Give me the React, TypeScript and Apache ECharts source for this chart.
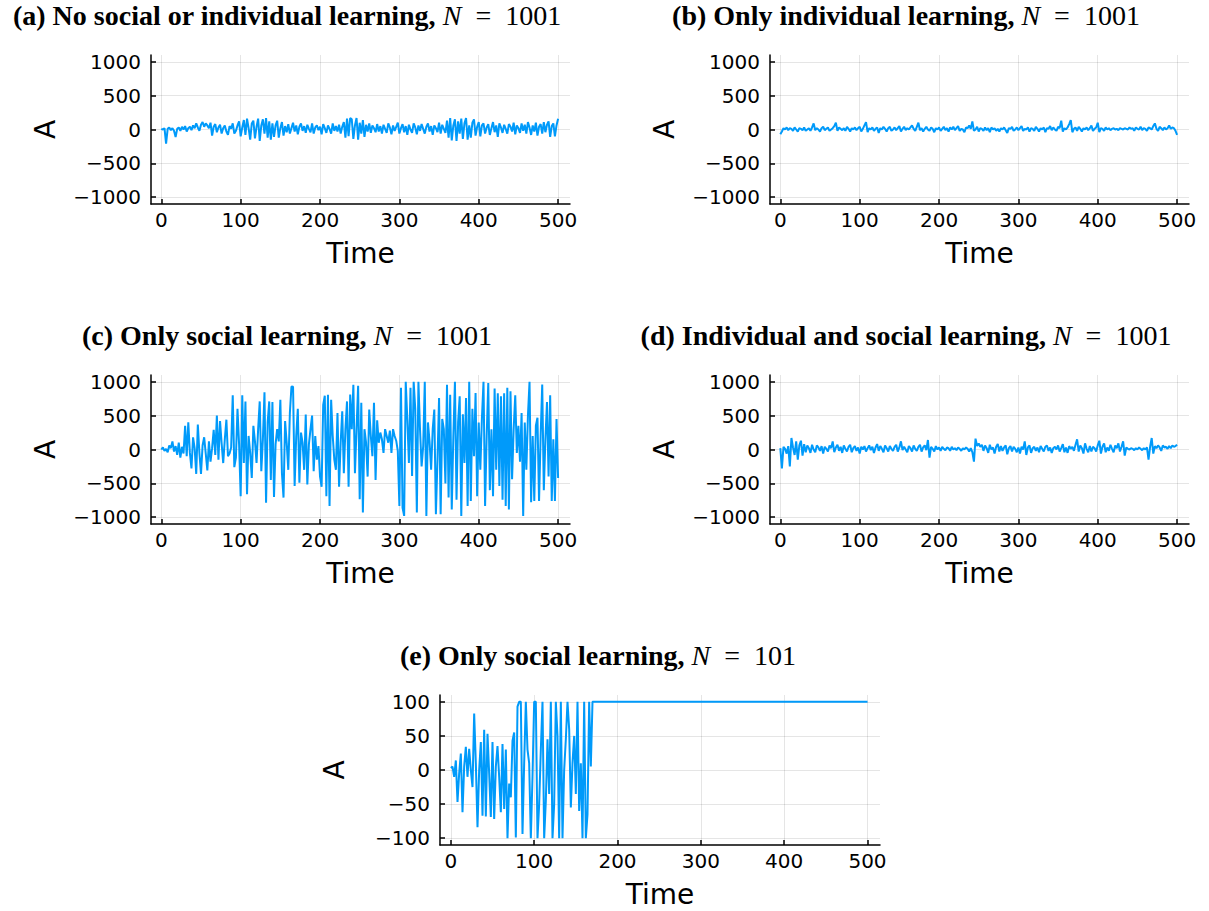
import React, { useEffect, useRef } from "react";
import * as echarts from "echarts";

// ---------- data ----------
const TIME_TICKS = [0, 100, 200, 300, 400, 500];
const A_TICKS_BIG = [-1000, -500, 0, 500, 1000];
const A_TICKS_SMALL = [-100, -50, 0, 50, 100];

const TITLES_BOLD = [
  "(a) No social or individual learning, ",
  "(b) Only individual learning, ",
  "(c) Only social learning, ",
  "(d) Individual and social learning, ",
  "(e) Only social learning, ",
];
const TITLES_N = ["1001", "1001", "1001", "1001", "101"];

// (a) sampled every 2 time steps, t = 0..500
const STEP_A = 2;
const SERIES_A = [
  10, 0, 20, -210, 10, 30, -10, 20, -20, -110,
  10, 30, -20, 40, 0, 50, -30, 20, 40, -10,
  60, 20, 90, 30, -20, 70, 110, 40, 90, 60,
  20, 100, -90, 40, 80, -40, 30, 70, -60, 20,
  60, -30, -80, 50, 10, 90, -60, -20, 60, 120,
  -100, 30, 140, -80, 160, 20, -150, 90, 130, -130,
  40, 160, -170, 60, 150, -60, 170, -120, 120, -150,
  90, -110, 60, 130, -120, 20, 110, -90, 50, -40,
  80, -60, 20, 100, -30, 60, -70, 40, 90, -20,
  50, -50, 70, 10, -40, 90, -60, 30, 60, -10,
  40, -70, 80, 20, -50, 60, 10, -60, 90, -20,
  50, -30, 70, -60, 40, 110, -120, 160, -100, 170,
  150, -140, 60, 170, -150, 100, -60, 140, -110, 70,
  -30, 90, -50, 60, 20, -40, 80, -30, 50, -60,
  70, 10, -50, 90, 30, -70, 60, -20, 40, 100,
  -60, 20, 80, -40, 50, -80, 70, 0, -50, 90,
  30, -70, 60, -20, 80, 10, -60, 40, 90, -30,
  50, -80, 60, 20, -40, 100, -60, 70, 10, -50,
  130, -120, 170, -160, 60, 150, -170, 120, -60, 160,
  -140, 90, 170, -150, 60, -120, 100, 150, -90, 40,
  110, -100, 60, 90, -60, 30, 80, -80, 20, 110,
  -40, 60, -110, 90, 30, -50, 70, 10, -60, 80,
  40, -30, 100, -70, 60, 20, -50, 90, -20, 70,
  -60, 110, 30, -80, 60, -30, 100, -90, 40, 80,
  -60, 110, -40, 70, 120, -110, 50, 90, -100, 60,
  160,
];

// (b) sampled every 2 time steps
const STEP_B = 2;
const SERIES_B = [
  -70, -30, 20, 0, 30, -10, 20, 10, -20, 30,
  0, -30, 20, 10, -10, 30, -20, 0, 20, -20,
  30, 90, -10, 20, 0, -30, 20, 40, -10, 10,
  30, -20, 0, 20, 50, 100, -20, 30, 10, -10,
  20, -20, 40, 10, -30, 20, 0, 30, -10, 20,
  40, -30, 10, 60, 110, -40, 20, 0, 30, -20,
  10, 30, -50, 20, 0, 40, 10, -30, 20, 40,
  -20, 0, 30, -10, 20, 50, -30, 10, 40, -10,
  20, 0, 30, 60, 10, -20, 40, 100, -10, 20,
  -30, 10, 40, 0, -20, 30, 10, -40, 20, 0,
  30, -20, 10, 40, -10, 20, -30, 30, 0, 40,
  -10, 20, 50, -20, 10, 0, -40, 30, 20, 60,
  10, 120, -20, 0, 40, -30, 20, 10, -20, 30,
  -10, 20, -40, 30, 0, 20, -20, 10, -30, 20,
  0, 30, -10, -50, 20, 10, 40, -20, 0, 30,
  -10, 20, 50, -20, 10, 0, 30, -30, 20, 10,
  -20, 40, 10, -30, 20, 0, 30, -40, 20, 10,
  50, -10, 30, 0, -20, 40, 20, 130, -30, 20,
  0, 30, 80, 140, -40, 10, 30, -20, 40, 10,
  -30, 20, 0, 30, -10, 20, 60, -20, 10, 30,
  100, -40, 20, 10, -20, 30, 0, 20, -10, 10,
  20, 0, 10, -10, 20, 10, 0, 20, 10, 0,
  30, 10, 20, -20, 30, 10, 0, 40, -10, 20,
  10, -20, 30, 20, 0, 50, 90, 10, -20, 40,
  20, -10, 30, 0, 20, 60, 10, 30, 20, -20,
  -80,
];

// (c) sampled every 2 time steps
const STEP_C = 2;
const SERIES_C = [
  0, 30, -20, 10, -40, 60, 20, 120, -30, 50,
  -80, 100, -120, 40, -60, 350, -100, 400, -50, -280,
  180, 20, -360, 370, -50, -360, 60, 180, -60, -310,
  120, -180, 20, 290, -80, 500, -150, 420, 90, -200,
  150, 440, -100, -60, 30, 800, -260, -120, 600, 80,
  -690, 800, -200, 710, -660, 200, -50, -420, 350, 120,
  -200, 300, 710, -320, 150, 845, -785, 400, 710, -450,
  700, -700, 80, 300, 120, 735, -350, -710, 420, 100,
  -300, 540, 930, 925, -540, 200, 600, -490, 250, 100,
  -300, 515, -515, 80, 300, 500, -320, 200, -150, 50,
  -400, -550, 660, 795, -690, 810, -835, 735, 200, -150,
  -300, 540, -550, 100, 565, -350, 300, 710, -550, 810,
  300, 955, -350, 300, 940, -735, 690, -930, 300, 100,
  -400, 590, 200, -100, 690, -450, 430, 100, 250, 150,
  -50, 300, 200, 100, 280, -50, 300, 200, 130, -20,
  -835, 910, -860, -980, 1000, 450, -200, 910, -390, 1000,
  600, -930, 1000, 300, -250, 50, 1000, -980, 400, 120,
  -300, 300, 590, -955, -150, 760, -955, 450, 300, -500,
  955, -710, 810, -885, 200, 1000, -740, 400, 785, -980,
  520, -200, 760, -835, 1000, -760, 600, -100, 835, -690,
  400, -300, 460, 1000, -835, 200, 980, -600, 300, -690,
  900, -300, 830, -540, 785, -740, 830, -835, 910, -885,
  860, -440, 300, 800, -50, 350, -180, 540, -980, 400,
  -300, 500, 1000, -780, 200, -760, 350, 470, -760, 200,
  960, -600, 150, 700, -400, 800, -760, 150, -760, 450,
  -420,
];

// (d) sampled every 2 time steps
const STEP_D = 2;
const SERIES_D = [
  20, -280, 40, 10, -60, 50, -250, 170, 30, -80,
  120, -150, 60, 130, -90, 80, -40, 60, 20, -50,
  70, 0, -40, 60, 30, -20, 50, -60, 40, 10,
  -30, 60, 20, 120, -40, 30, 70, -20, 40, -50,
  60, 10, -30, 40, 70, -40, 20, 50, -20, 30,
  -60, 40, 0, 50, -30, 20, 60, -10, 40, -50,
  30, 80, -20, 50, 10, -40, 60, 20, -30, 50,
  10, -20, 40, 70, -30, 30, 120, -10, 40, 0,
  -40, 50, 20, -30, 60, 10, -20, 40, 70, -30,
  30, 60, -10, 140, -120, 40, 10, -30, 50, 0,
  30, -20, 40, 10, -10, 30, 20, -20, 40, 0,
  20, -10, 30, 10, -20, 20, 0, 30, 10, -30,
  20, -40, -180, 160, 50, 90, 40, 70, -20, 60,
  20, -50, 70, 0, 30, -60, 40, 80, -30, 50,
  -20, 30, 60, -70, 20, 50, -30, 40, 10, -40,
  30, -60, 40, 0, 120, -80, 30, 60, -50, 20,
  40, -20, 30, -40, 50, 10, -30, 40, 60, -20,
  30, -50, 20, 40, 0, 60, -30, 20, 80, -40,
  30, -50, 50, 10, 40, -20, 70, 150, -30, 60,
  20, -60, 90, 10, -40, 50, -30, 40, 20, -30,
  60, 130, -60, 40, 90, -40, 30, -20, 70, 10,
  -40, 60, 20, 90, -30, 40, 120, -90, 30, 10,
  0, 20, 10, -10, 20, 0, 30, 10, -10, 20,
  0, 30, -150, 40, 170, -60, 50, 20, 60, 30,
  -20, 60, 30, 40, 10, 50, 20, 60, 40, 50,
  70,
];

// (e) sampled every 2 time steps for t = 0..170, then constant
const STEP_E = 2;
const SERIES_E = [
  3, 5, -10, 14, -47, -5, 24, -62, 5, 34,
  -10, 31, 0, -25, 83, 10, -84, 0, 41, -67,
  59, -68, 53, -5, -69, 41, -72, 5, 35, -10,
  -62, 38, -57, 30, -100, -20, -40, 43, 55, -99,
  93, 100, 100, -94, 10, 100, 30, 10, -100, -10,
  100, 100, -100, -50, 30, 100, -100, -45, 45, -35,
  100, -100, -50, 100, 50, -100, 100, -100, 0, 45,
  100, 60, -55, 10, 50, -35, 100, -60, 10, -100,
  100, -100, -65, 100, 5, 100,
];
const SERIES_E_END_TIME = 500;
const SERIES_E_END_VALUE = 100;

// ---------- layout ----------
const LAYOUT = [
  { left: 151, top: 55, width: 419, height: 149, ymax: 1100, ticks: A_TICKS_BIG, tx: 287, ty: 15 },
  { left: 770, top: 55, width: 419, height: 149, ymax: 1100, ticks: A_TICKS_BIG, tx: 906, ty: 15 },
  { left: 151, top: 375, width: 419, height: 149, ymax: 1100, ticks: A_TICKS_BIG, tx: 287, ty: 335 },
  { left: 770, top: 375, width: 419, height: 149, ymax: 1100, ticks: A_TICKS_BIG, tx: 906, ty: 335 },
  { left: 440, top: 695, width: 440, height: 150, ymax: 110, ticks: A_TICKS_SMALL, tx: 598, ty: 655 },
];

const LINE_COLOR = "#009AFA";
const SANS = "DejaVu Sans";
const SERIF = "Liberation Serif";
const TITLE_SIZE = 28;

function toPairs(values: number[], step: number): number[][] {
  return values.map((v, i) => [i * step, v]);
}

const fmt = (v: number) => (v < 0 ? "\u2212" + Math.abs(v) : String(v));

export default function App() {
  const ref = useRef<HTMLDivElement>(null);

  useEffect(() => {
    if (!ref.current) return;
    const chart = echarts.init(ref.current, undefined, { renderer: "svg" });

    const dataSets = [
      toPairs(SERIES_A, STEP_A),
      toPairs(SERIES_B, STEP_B),
      toPairs(SERIES_C, STEP_C),
      toPairs(SERIES_D, STEP_D),
      toPairs(SERIES_E, STEP_E).concat([[SERIES_E_END_TIME, SERIES_E_END_VALUE]]),
    ];

    const axisLineStyle = { color: "#000", width: 1.5 };
    const splitLineStyle = { color: "rgba(0,0,0,0.1)", width: 1 };

    const grids = LAYOUT.map((l) => ({
      left: l.left,
      top: l.top,
      width: l.width,
      height: l.height,
      containLabel: false,
    }));

    const xAxes = LAYOUT.map((l, i) => ({
      type: "value",
      gridIndex: i,
      min: -13,
      max: 515,
      position: "bottom",
      name: "Time",
      nameLocation: "middle",
      nameGap: 35,
      nameTextStyle: { fontFamily: SANS, fontSize: 28, color: "#000" },
      axisLine: { show: true, onZero: false, lineStyle: axisLineStyle },
      axisTick: { show: true, inside: true, length: 5, customValues: TIME_TICKS, lineStyle: axisLineStyle },
      axisLabel: {
        customValues: TIME_TICKS,
        fontFamily: SANS,
        fontSize: 20,
        color: "#000",
        margin: 6,
        formatter: fmt,
      },
      splitLine: { show: true, lineStyle: splitLineStyle },
    }));

    const yAxes = LAYOUT.map((l, i) => ({
      type: "value",
      gridIndex: i,
      min: -l.ymax,
      max: l.ymax,
      position: "left",
      name: "A",
      nameLocation: "middle",
      nameGap: 92,
      nameTextStyle: { fontFamily: SANS, fontSize: 28, color: "#000" },
      axisLine: { show: true, onZero: false, lineStyle: axisLineStyle },
      axisTick: { show: true, inside: true, length: 5, customValues: l.ticks, lineStyle: axisLineStyle },
      axisLabel: {
        customValues: l.ticks,
        fontFamily: SANS,
        fontSize: 20,
        color: "#000",
        margin: 10,
        formatter: fmt,
      },
      splitLine: { show: true, lineStyle: splitLineStyle },
    }));

    const series = dataSets.map((d, i) => ({
      type: "line",
      xAxisIndex: i,
      yAxisIndex: i,
      data: d,
      showSymbol: false,
      symbol: "none",
      lineStyle: { color: LINE_COLOR, width: 2 },
      itemStyle: { color: LINE_COLOR },
      z: 3,
    }));

    const graphics = LAYOUT.map((l, i) => ({
      type: "text",
      x: l.tx,
      y: l.ty,
      style: {
        text: `{b|${TITLES_BOLD[i]}}{m|N}{r|\u2002=\u2002${TITLES_N[i]}}`,
        align: "center",
        verticalAlign: "middle",
        rich: {
          b: { fontFamily: SERIF, fontWeight: "bold", fontSize: TITLE_SIZE, fill: "#000", color: "#000" },
          m: { fontFamily: SERIF, fontStyle: "italic", fontSize: TITLE_SIZE, fill: "#000", color: "#000" },
          r: { fontFamily: SERIF, fontSize: TITLE_SIZE, fill: "#000", color: "#000" },
        },
      },
    }));

    chart.setOption({
      animation: false,
      backgroundColor: "#ffffff",
      grid: grids,
      xAxis: xAxes,
      yAxis: yAxes,
      series,
      graphic: graphics,
    });

    return () => chart.dispose();
  }, []);

  return (
    <div
      ref={ref}
      style={{ position: "absolute", left: 0, top: 0, width: 1209, height: 911 }}
    />
  );
}
